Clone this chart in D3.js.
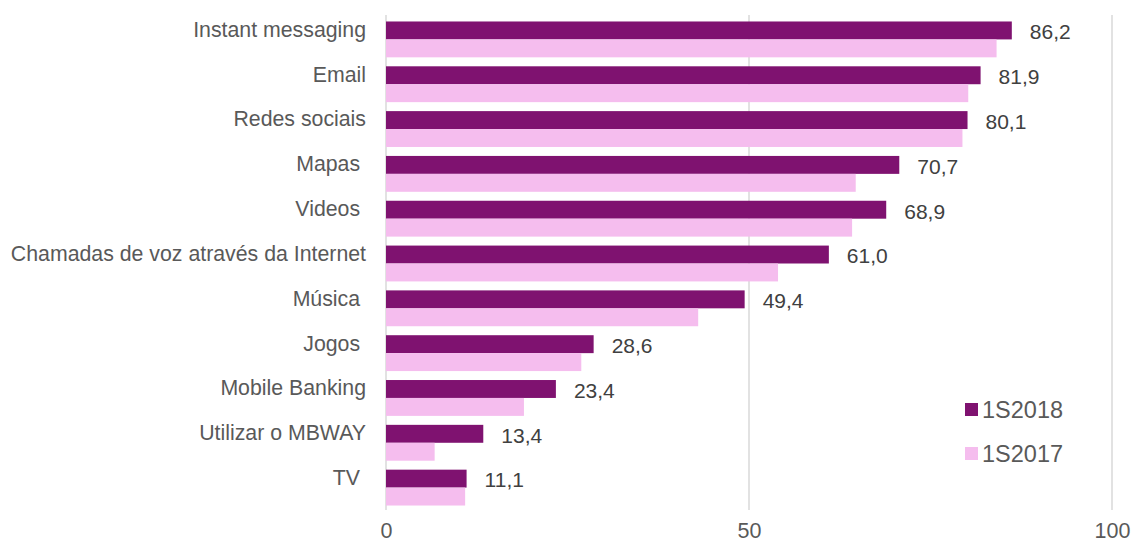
<!DOCTYPE html>
<html>
<head>
<meta charset="utf-8">
<script src="https://cdn.jsdelivr.net/npm/d3@7"></script>
<style>
  body { margin: 0; background: #fff; }
</style>
</head>
<body>
<div id="chart-area"></div>
<script>
const categories = ["Instant messaging", "Email", "Redes sociais", "Mapas ", "Videos ",
    "Chamadas de voz através da Internet", "Música ", "Jogos ", "Mobile Banking",
    "Utilizar o MBWAY", "TV "];
const values2018 = [86.2, 81.9, 80.1, 70.7, 68.9, 61.0, 49.4, 28.6, 23.4, 13.4, 11.1];
const values2017 = [84.1, 80.2, 79.4, 64.7, 64.2, 54.0, 43.0, 26.9, 19.0, 6.7, 10.9];
const seriesNames = ["1S2018", "1S2017"];
const xTicks = [0, 50, 100];

const W = 1134, H = 545;
const margin = {top: 17, right: 22, bottom: 35, left: 386};
const width = W - margin.left - margin.right;
const height = H - margin.top - margin.bottom;

const colors = {"1S2018": "#7f1270", "1S2017": "#f5bdee"};
const font = "'Liberation Sans', Arial, sans-serif";

const svg = d3.select("#chart-area")
    .append("svg")
    .attr("width", W)
    .attr("height", H)
    .style("font-family", font);

const g = svg.append("g")
    .attr("transform", `translate(${margin.left}, ${margin.top})`);

const xScale = d3.scaleLinear()
    .domain([0, 100])
    .range([0, width]);

const yScale = d3.scaleBand()
    .domain(categories)
    .range([0, height])
    .paddingInner(0.2)
    .paddingOuter(0.1);

const inner = d3.scaleBand()
    .domain(seriesNames)
    .range([0, yScale.bandwidth()]);

// gridlines
g.selectAll(".grid")
    .data(xTicks)
    .enter()
    .append("line")
    .attr("x1", d => xScale(d))
    .attr("x2", d => xScale(d))
    .attr("y1", -2)
    .attr("y2", height)
    .attr("stroke", "#d9d9d9")
    .attr("stroke-width", 1.5);

const rows = g.selectAll(".row")
    .data(categories)
    .enter()
    .append("g")
    .attr("transform", d => `translate(0, ${yScale(d)})`);

rows.append("rect")
    .attr("x", 0)
    .attr("y", inner("1S2018"))
    .attr("height", inner.bandwidth())
    .attr("width", (d, i) => xScale(values2018[i]))
    .attr("fill", colors["1S2018"]);

rows.append("rect")
    .attr("x", 0)
    .attr("y", inner("1S2017"))
    .attr("height", inner.bandwidth())
    .attr("width", (d, i) => xScale(values2017[i]))
    .attr("fill", colors["1S2017"]);

rows.append("text")
    .attr("x", (d, i) => xScale(values2018[i]) + 18)
    .attr("y", inner("1S2018") + inner.bandwidth() / 2)
    .attr("dy", "0.42em")
    .attr("fill", "#404040")
    .style("font-size", "21px")
    .text((d, i) => values2018[i].toFixed(1).replace(".", ","));

// category labels, level with the 1S2018 bar
rows.append("text")
    .attr("x", -20)
    .attr("y", inner("1S2018") + inner.bandwidth() / 2)
    .attr("dy", "0.3em")
    .attr("text-anchor", "end")
    .attr("fill", "#595959")
    .style("font-size", "21.3px")
    .style("white-space", "pre")
    .text(d => d);

// value axis
const xAxis = d3.axisBottom(xScale).tickValues(xTicks).tickSize(0).tickPadding(13);
g.append("g")
    .attr("transform", `translate(0, ${height})`)
    .call(xAxis)
    .call(ax => ax.select(".domain").remove())
    .selectAll("text")
    .attr("fill", "#595959")
    .style("font-size", "21.5px")
    .style("font-family", font);

// legend
const legend = svg.append("g")
    .attr("transform", "translate(965, 403)");

const items = legend.selectAll("g")
    .data(seriesNames)
    .enter()
    .append("g")
    .attr("transform", (d, i) => `translate(0, ${i * 44})`);

items.append("rect")
    .attr("width", 13)
    .attr("height", 13)
    .attr("fill", d => colors[d]);

items.append("text")
    .attr("x", 17)
    .attr("y", 6.5)
    .attr("dy", "0.36em")
    .attr("fill", "#595959")
    .style("font-size", "23.5px")
    .text(d => d);
</script>
</body>
</html>
